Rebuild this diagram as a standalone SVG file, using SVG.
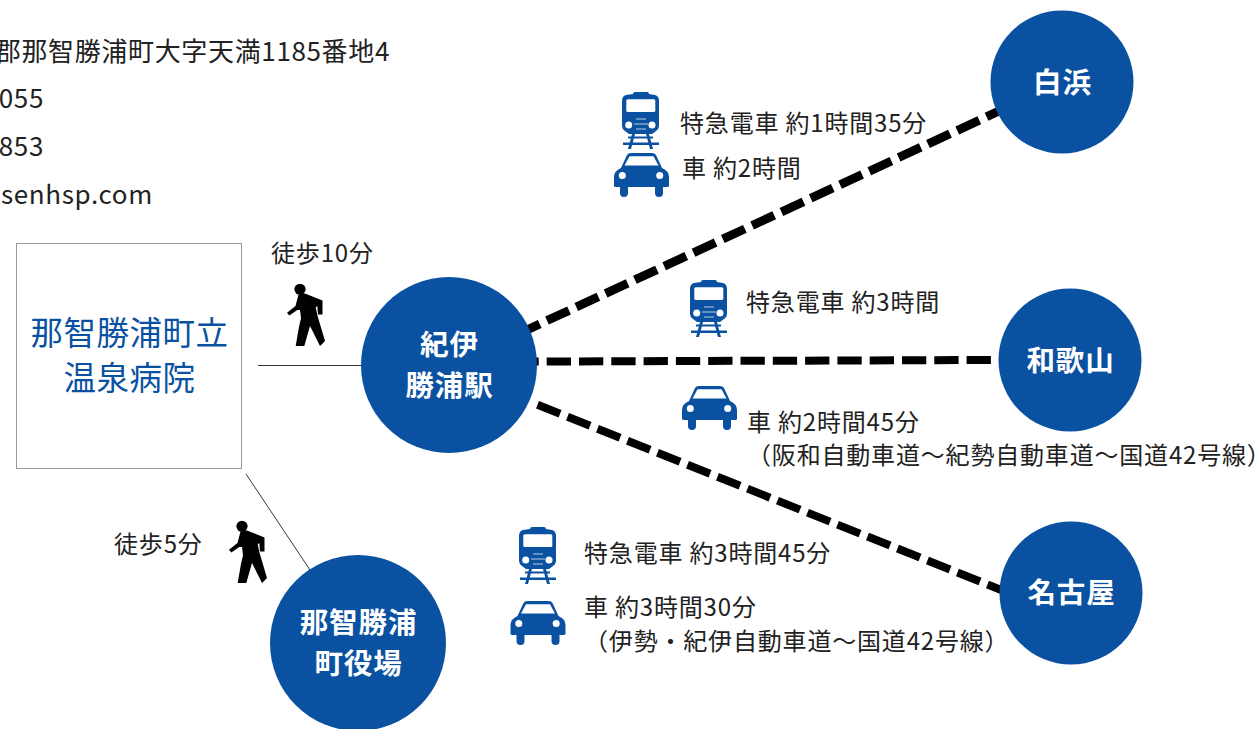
<svg xmlns="http://www.w3.org/2000/svg" width="1256" height="729" viewBox="0 0 1256 729">
<style>
text{font-family:"Noto Sans CJK JP","Noto Sans",sans-serif;fill:#222}
.t{font-size:26px;letter-spacing:.65px}
.s{font-size:24px;letter-spacing:.82px}
.n{font-size:28.500px;letter-spacing:.9px;font-weight:700;fill:#fff;text-anchor:middle}
.c{fill:#0a52a1}
.d{fill:none;stroke:#000;stroke-dasharray:24.3 8}
.l{fill:none;stroke:#333;stroke-width:1}
.b{font-size:32.500px;letter-spacing:.5px;fill:#0a52a1;text-anchor:middle}
</style>
<defs>
<g id="train">
<path class="c" d="M11 2Q11 0 13 0H25Q27 0 27 2L33 3Q37 4 37 9V34Q37 37 34 39L30 42H7L3 39Q0 37 0 34V9Q0 4 4 3Z"/>
<rect x="4.300" y="7.300" width="29" height="12.700" rx="1.500" fill="#fff"/>
<circle cx="6.700" cy="33" r="3.500" fill="#fff"/><circle cx="30" cy="33" r="3.500" fill="#fff"/>
<path d="M14 27H24M12 32H26M14 37H24" stroke="#fff" stroke-width="1.200" opacity=".7"/>
<path class="c" d="M10 42H13L9 57H6ZM24 42H27L31 57H28ZM6 44.500H31V46.500H6ZM1 50.500H37V53H1Z"/>
</g>
<g id="car">
<path class="c" d="M13 2Q14 0 17 0H38Q41 0 42 2L48 15Q55 18 55 24V33Q55 34 53 34H49V40Q49 44 45 44Q41 44 41 40V34H14V40Q14 44 10 44Q6 44 6 40V34H2Q0 34 0 33V24Q0 18 7 15Z"/>
<path d="M15.500 3.300H39.500L44.500 12.500H10.500Z" fill="#fff"/>
<circle cx="8.300" cy="22.500" r="3.500" fill="#fff"/><circle cx="45.700" cy="22.500" r="3.500" fill="#fff"/>
</g>
<g id="walker">
<circle cx="13" cy="5.300" r="5.600" fill="#000"/>
<path fill="#000" d="M11.500 10.500L18 9.500L35.500 16.500V30.500H31L30.300 22L28.700 23.500L30.800 32.700L38 57L33 62L23 42L17.300 62H8.700L12 42.700L14 34.300L13 26H10.300L2.300 31.500L0 28.700L8.500 22Z"/>
</g>
</defs>

<g id="address">
<text class="t" x="390" y="61" text-anchor="end">郡那智勝浦町大字天満1185番地4</text>
<text class="t" x="44" y="108" text-anchor="end">055</text>
<text class="t" x="44" y="156" text-anchor="end">853</text>
<text class="t" x="153" y="204" text-anchor="end">senhsp.com</text>
</g>

<g id="connectors">
<path class="l" d="M258 365.500H362"/>
<path class="l" d="M246 474L310 570"/>
<path class="d" stroke-width="8.800" d="M517.700 334.200L1008.600 106.600"/>
<path class="d" stroke-width="8" d="M514.400 361.600L992 360"/>
<path class="d" stroke-width="8" d="M537.500 404.800L1010 593.500"/>
</g>

<g id="hospital">
<rect x="16.500" y="243.500" width="225" height="225" fill="#fff" stroke="#999"/>
<text class="b" x="129.500" y="345">那智勝浦町立</text>
<text class="b" x="129.500" y="390">温泉病院</text>
</g>
<g id="kii-katsuura"><circle class="c" cx="449" cy="365" r="88"/><text class="n" x="449.500" y="355">紀伊</text><text class="n" x="449.500" y="396">勝浦駅</text></g>
<g id="town-office"><circle class="c" cx="358" cy="643" r="88"/><text class="n" x="358.500" y="633">那智勝浦</text><text class="n" x="358.500" y="674">町役場</text></g>
<g id="shirahama"><circle class="c" cx="1062" cy="82" r="71.500"/><text class="n" x="1062.500" y="93">白浜</text></g>
<g id="wakayama"><circle class="c" cx="1070" cy="360" r="71.500"/><text class="n" x="1070.500" y="371">和歌山</text></g>
<g id="nagoya"><circle class="c" cx="1071" cy="593" r="71.500"/><text class="n" x="1071.500" y="602.500">名古屋</text></g>

<g id="icons">
<use href="#train" x="622" y="92"/>
<use href="#car" x="614" y="153"/>
<use href="#train" x="690" y="280"/>
<use href="#car" x="682" y="386"/>
<use href="#train" x="519" y="527"/>
<use href="#car" x="510.500" y="601"/>
<use href="#walker" x="287" y="284"/>
<use href="#walker" x="229" y="521"/>
</g>

<g id="labels">
<text class="s" x="680" y="132">特急電車 約1時間35分</text>
<text class="s" x="682" y="177">車 約2時間</text>
<text class="s" x="746" y="311">特急電車 約3時間</text>
<text class="s" x="747" y="431">車 約2時間45分</text>
<text class="s" x="747" y="463.500">（阪和自動車道〜紀勢自動車道〜国道42号線）</text>
<text class="s" x="584" y="562">特急電車 約3時間45分</text>
<text class="s" x="584" y="616">車 約3時間30分</text>
<text class="s" x="584" y="650">（伊勢・紀伊自動車道〜国道42号線）</text>
<text class="s" x="271" y="262">徒歩10分</text>
<text class="s" x="114" y="553">徒歩5分</text>
</g>
</svg>
